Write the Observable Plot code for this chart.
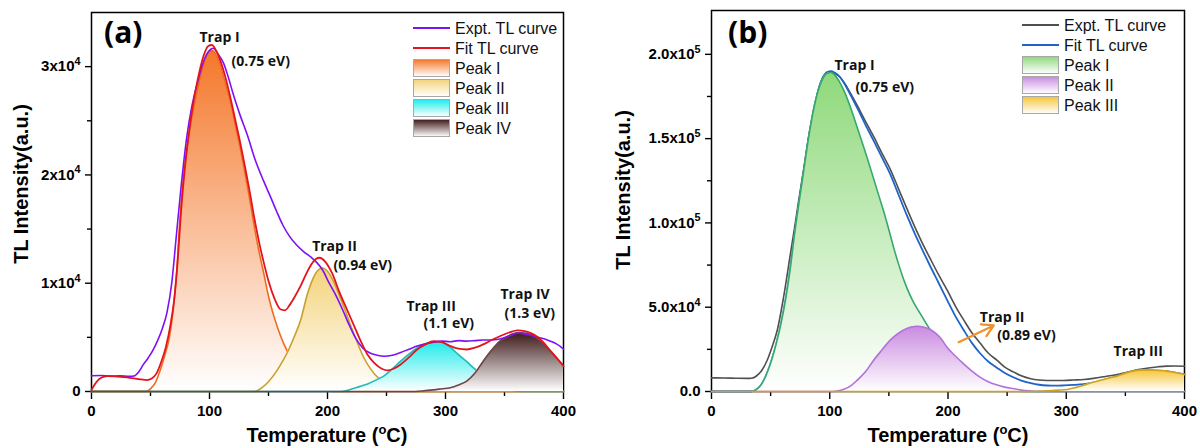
<!DOCTYPE html>
<html><head><meta charset="utf-8">
<script src="https://cdn.jsdelivr.net/npm/d3@7"></script>
<script src="https://cdn.jsdelivr.net/npm/@observablehq/plot@0.6"></script>
<style>
html,body{margin:0;padding:0;background:#fff;}
#wrap{position:relative;width:1200px;height:448px;overflow:hidden;background:#fff;}
.panel{position:absolute;top:0;width:600px;height:448px;}
#overlay{position:absolute;left:0;top:0;pointer-events:none;}
</style></head><body><div id="wrap"><div class="panel" id="pa" style="left:0"></div><div class="panel" id="pb" style="left:600px"></div></div>
<script>
// ---------- Panel (a) data: [Temperature °C, TL intensity a.u.] ----------
const aExpt = [[0,1450],[8,1480],[16,1420],[24,1440],[32,1400],[36,1430],[40,1800],[44,2500],[48,3100],[52,3800],[56,4700],[60,5800],[64,7300],[68,10000],[72,14500],[76,19000],[81,23700],[85,26300],[90,28600],[95,30500],[100,31500],[103,31700],[107,31200],[112,30300],[116,29000],[120,27500],[126,25500],[132,23700],[139,21300],[146,19400],[152,17900],[157,16600],[162,15400],[168,14300],[174,13500],[180,12900],[186,12400],[191,11900],[196,11200],[201,10100],[207,8900],[213,7500],[219,6000],[224,4900],[230,4000],[236,3550],[242,3350],[248,3250],[255,3350],[262,3600],[269,3900],[276,4200],[283,4400],[290,4550],[297,4650],[304,4600],[311,4700],[318,4650],[325,4700],[332,4750],[339,4750],[346,4850],[352,5050],[357,5250],[362,5400],[367,5300],[372,5200],[378,5000],[384,4850],[389,4650],[394,4400],[398,4100],[400,3900]];
const aFit = [[0,150],[3,700],[6,1100],[10,1350],[14,1420],[20,1400],[30,1300],[40,1150],[47,1050],[51,1200],[55,1650],[59,2700],[63,4100],[67,6200],[70,8400],[73,12000],[76,16800],[79,20500],[82,23400],[86,26500],[90,28800],[95,31000],[99,31900],[102,32000],[106,31400],[110,30300],[114,28800],[118,27000],[122,25000],[126,23000],[130,20800],[134,18500],[138,16000],[142,13800],[146,11900],[150,10200],[155,8600],[160,7600],[164,7500],[168,8000],[172,8700],[177,9700],[183,11100],[188,12000],[193,12350],[198,12000],[204,10900],[210,9200],[216,7700],[222,6200],[228,4700],[234,3400],[240,2600],[246,2100],[251,1950],[256,2100],[262,2500],[270,3250],[276,3880],[283,4350],[290,4640],[297,4550],[304,4200],[311,3950],[318,3880],[325,4050],[332,4350],[340,4800],[347,5150],[354,5450],[361,5650],[368,5550],[375,5250],[382,4650],[389,3750],[395,3000],[400,2350]];
const aPeak1 = [[0,0],[46,0],[50,250],[54,800],[58,1900],[62,3300],[66,5000],[69,7300],[72,10800],[75,16000],[78,19800],[81,22500],[85,25300],[90,28000],[95,30200],[99,31300],[102,31500],[105,31200],[109,30200],[113,28600],[118,26600],[122,24500],[126,22500],[130,20200],[134,17800],[138,15200],[142,12900],[146,10900],[150,8800],[155,6800],[160,5200],[166,3700],[172,2600],[178,1600],[185,800],[193,300],[200,80],[210,0],[400,0]];
const aPeak2 = [[0,0],[138,0],[145,400],[150,900],[157,1900],[162,2800],[166,3600],[172,5100],[177,6500],[183,9000],[188,10500],[192,11200],[196,11400],[200,11100],[205,10200],[210,8900],[215,7500],[220,6000],[225,4600],[230,3300],[234,2500],[240,1600],[246,1000],[252,550],[260,200],[270,50],[280,0],[400,0]];
const aPeak3 = [[0,0],[212,0],[220,200],[227,450],[234,700],[241,1050],[248,1450],[255,2100],[262,2800],[269,3450],[276,4030],[283,4400],[290,4580],[294,4600],[300,4400],[305,4000],[311,3400],[318,2750],[324,2150],[330,1600],[337,1000],[345,500],[355,150],[365,0],[400,0]];
const aPeak4 = [[0,0],[270,0],[280,50],[290,150],[297,250],[304,350],[311,600],[318,950],[325,1700],[332,2800],[339,3800],[346,4640],[353,5100],[358,5350],[363,5420],[369,5350],[375,5100],[382,4500],[389,3720],[395,3000],[400,2340]];
const aXTicks = [0,100,200,300,400];
const aXMinor = [50,150,250,350];
const aYTicks = [0,10000,20000,30000];
const aYTickLabels = ["0","1x10^4","2x10^4","3x10^4"];
const aYMinor = [5000,15000,25000];
const aLegend = ["Expt. TL curve","Fit TL curve","Peak I","Peak II","Peak III","Peak IV"];
const aNotes = [
  {T:91.5, I:32230, label:"Trap I"}, {T:118.6, I:30060, label:"(0.75 eV)"},
  {T:187.0, I:12960, label:"Trap II"}, {T:205.1, I:11220, label:"(0.94 eV)"},
  {T:266.9, I:7480, label:"Trap III"}, {T:281.4, I:5860, label:"(1.1 eV)"},
  {T:346.6, I:8500, label:"Trap IV"}, {T:350.0, I:6790, label:"(1.3 eV)"}
];

// ---------- Panel (b) data ----------
const bExpt = [[0,8100],[10,8050],[20,7900],[30,7800],[34,7900],[38,9200],[42,12000],[47,18400],[51,26000],[55.6,36300],[61,56100],[66.8,82000],[70,96000],[74,114500],[78,132000],[82,150500],[86.5,166000],[90,178000],[94,186000],[98,189300],[101,189500],[104,188800],[108,187000],[112,183500],[117.5,177000],[123,170000],[130,160500],[137.3,151000],[144,141500],[151.4,131500],[158,120500],[165.5,108000],[172,97500],[178,88500],[185.2,78500],[192,69300],[199.3,60100],[206,51000],[213.4,42300],[220,35000],[227.5,28400],[234,22800],[241.6,18450],[248,14500],[255.7,11500],[262,9300],[270,7540],[277,6800],[284,6550],[291,6500],[298,6550],[306,6800],[315,7140],[323,7800],[333,8900],[343,10100],[352,11600],[361,13000],[371,14100],[378,14700],[385,15060],[392,15100],[400,15000]];
const bFit = [[0,0],[33,0],[38,1200],[42,4000],[47,11000],[51,19000],[55,29000],[59,41000],[63,56000],[67,75000],[70,92000],[74,112000],[78,131000],[82,150000],[86,166000],[90,178000],[94,186000],[98,189500],[101,190000],[104,189200],[108,187000],[112,183000],[117.5,176000],[123,168500],[130,158500],[137.3,148500],[144,139000],[151.4,128500],[158,117000],[165.5,104000],[172,93500],[178,84500],[185.2,74000],[192,64500],[199.3,54200],[206,45000],[213.4,36300],[220,29000],[227.5,22400],[234,17800],[241.6,14000],[248,11000],[255.7,8300],[262,6500],[270,4950],[277,4000],[284,3570],[291,3450],[298,3600],[306,3900],[315,4400],[323,5300],[333,7000],[343,9100],[352,10900],[362,12300],[371,12500],[378,12400],[385,12100],[392,11200],[400,10100]];
const bPeak1 = [[0,0],[33,0],[38,1200],[42,4000],[47,11000],[51,19000],[55,29000],[59,41000],[63,56000],[67,75000],[70,92000],[74,112000],[78,131000],[82,150000],[86,166000],[90,178000],[94,185500],[98,188800],[101,189200],[104,188000],[108,184000],[112,178500],[116,171500],[120,163500],[124,155000],[128,146500],[132,137800],[136,128800],[140,119600],[144,110500],[147,103500],[150,96000],[154,85500],[158,76000],[162,67500],[165.5,61000],[170,54000],[176.7,46000],[181,41000],[185.2,36300],[190,31500],[195,26500],[200,22000],[206,17000],[212,12500],[218,8800],[225,5500],[232,3200],[240,1600],[250,600],[260,150],[270,0],[400,0]];
const bPeak2 = [[0,0],[100,0],[106,300],[112,1300],[118,3500],[123,6550],[130,11500],[137,18450],[144,24500],[151,30400],[158,34500],[165,37300],[170,38400],[174,38700],[179,38300],[185,36800],[190,34300],[195,30500],[199,26400],[206,21200],[213,16500],[220,12200],[227,8500],[234,5800],[241,3970],[248,2600],[256,1600],[262,800],[270,300],[280,0],[400,0]];
const bPeak3 = [[0,0],[265,0],[275,150],[285,450],[293,800],[301,1190],[308,2300],[315,3770],[322,5300],[329,6700],[336,8000],[343,9100],[350,10800],[356,12000],[363,12700],[370,12800],[378,12500],[385,12100],[392,11300],[400,10100]];
const bXTicks = [0,100,200,300,400];
const bXMinor = [50,150,250,350];
const bYTicks = [0,50000,100000,150000,200000];
const bYTickLabels = ["0.0","5.0x10^4","1.0x10^5","1.5x10^5","2.0x10^5"];
const bYMinor = [25000,75000,125000,175000];
const bLegend = ["Expt. TL curve","Fit TL curve","Peak I","Peak II","Peak III"];
const bNotes = [
  {T:104.0, I:190800, label:"Trap I"}, {T:121.8, I:177500, label:"(0.75 eV)"},
  {T:226.9, I:41100, label:"Trap II"}, {T:241.6, I:30300, label:"(0.89 eV)"},
  {T:340.0, I:20950, label:"Trap III"}
];
const bArrow = [{T1:209, I1:29260, T2:238.7, I2:39170}];

// ---------- styles ----------
const FONT = "'Liberation Sans', Arial, sans-serif";
const NOTEFONT = "'Open Sans', 'Liberation Sans', sans-serif";
const aColors = {expt:"#7F10F5", fit:"#E3141E",
  peaks:[{line:"#F06A1E", top:"#F4772A"},{line:"#C9A12E", top:"#F3D37A"},{line:"#25B8B8", top:"#1EEBEB"},{line:"#6E4545", top:"#3E1818"}]};
const bColors = {expt:"#505050", fit:"#1F64C8",
  peaks:[{line:"#35A86C", top:"#8ED97A"},{line:"#B272D8", top:"#C98AE0"},{line:"#CFA21F", top:"#F6C535"}]};

const rows = arr => arr.map(([T, I]) => ({T, I}));
const NS = "http://www.w3.org/2000/svg";

function supify(root) {
  root.querySelectorAll("text").forEach(t => {
    if (t.children.length || !t.textContent.includes("^")) return;
    const [base, sup] = t.textContent.split("^");
    t.textContent = "";
    const b = document.createElementNS(NS, "tspan"); b.textContent = base; t.appendChild(b);
    const p = document.createElementNS(NS, "tspan"); p.textContent = sup;
    p.setAttribute("dy", "-0.6em"); p.setAttribute("font-size", "0.72em"); t.appendChild(p);
  });
}
function addGradients(svg, list) {
  const defs = d3.select(svg).insert("defs", ":first-child");
  list.forEach(({id, top}) => {
    const g = defs.append("linearGradient").attr("id", id).attr("x1", 0).attr("y1", 0).attr("x2", 0).attr("y2", 1);
    g.append("stop").attr("offset", 0).attr("stop-color", top);
    g.append("stop").attr("offset", 1).attr("stop-color", "#ffffff");
  });
}

function makePanel(cfg) {
  const peakMarks = [];
  cfg.peaks.forEach((p, i) => {
    const data = rows(p);
    peakMarks.push(Plot.areaY(data, {x: "T", y: "I", fill: `url(#${cfg.id}g${i})`, curve: "monotone-x"}));
    peakMarks.push(Plot.lineY(data, {x: "T", y: "I", stroke: cfg.colors.peaks[i].line, strokeWidth: 1.6, curve: "monotone-x"}));
  });
  const exptMark = Plot.lineY(rows(cfg.expt), {x: "T", y: "I", stroke: cfg.colors.expt, strokeWidth: 1.6, curve: "monotone-x"});
  const fitMark = Plot.lineY(rows(cfg.fit), {x: "T", y: "I", stroke: cfg.colors.fit, strokeWidth: 1.8, curve: "monotone-x"});
  const curveMarks = cfg.linesFirst ? [exptMark, fitMark, ...peakMarks] : [...peakMarks, exptMark, fitMark];
  const svg = Plot.plot({
    width: 600, height: 448,
    marginLeft: cfg.ml, marginRight: cfg.mr, marginTop: cfg.mt, marginBottom: 57,
    x: {domain: [0, 400]},
    y: {domain: [0, cfg.ymax]},
    style: {fontFamily: FONT, fontSize: "15px", fontWeight: "bold", color: "#000", background: "transparent", overflow: "visible"},
    marks: [
      Plot.frame({stroke: "#000", strokeWidth: 1.5}),
      Plot.axisX({ticks: cfg.xTicks, tickSize: 8, tickPadding: 6, strokeWidth: 1.4, tickFormat: d => String(d), label: null}),
      Plot.axisX({ticks: cfg.xMinor, tickSize: 5, strokeWidth: 1.4, tickFormat: () => "", label: null}),
      Plot.axisY({ticks: cfg.yTicks, tickSize: 6, tickPadding: 5, strokeWidth: 1.4, tickFormat: d => cfg.yLabels[cfg.yTicks.indexOf(d)], label: null}),
      Plot.axisY({ticks: cfg.yMinor, tickSize: 4, strokeWidth: 1.4, tickFormat: () => "", label: null}),
      ...curveMarks,
      ...(cfg.arrow ? [Plot.arrow(cfg.arrow, {x1: "T1", y1: "I1", x2: "T2", y2: "I2", stroke: "#F0922B", strokeWidth: 2.2, headLength: 9})] : []),
      Plot.text(cfg.notes, {x: "T", y: "I", text: "label", textAnchor: "start", lineAnchor: "bottom", fontFamily: NOTEFONT, fontSize: 14, fontWeight: "bold", fill: "#111"})
    ]
  });
  addGradients(svg, cfg.colors.peaks.map((c, i) => ({id: `${cfg.id}g${i}`, top: c.top})));
  supify(svg);
  return svg;
}

document.getElementById("pa").appendChild(makePanel({
  id: "A", ml: 91, mr: 37, mt: 12, ymax: 35000,
  expt: aExpt, fit: aFit, peaks: [aPeak1, aPeak2, aPeak3, aPeak4], colors: aColors,
  xTicks: aXTicks, xMinor: aXMinor, yTicks: aYTicks, yLabels: aYTickLabels, yMinor: aYMinor,
  notes: aNotes, linesFirst: false
}));
document.getElementById("pb").appendChild(makePanel({
  id: "B", ml: 111, mr: 16, mt: 10, ymax: 226000,
  expt: bExpt, fit: bFit, peaks: [bPeak1, bPeak2, bPeak3], colors: bColors,
  xTicks: bXTicks, xMinor: bXMinor, yTicks: bYTicks, yLabels: bYTickLabels, yMinor: bYMinor,
  notes: bNotes, arrow: bArrow, linesFirst: true
}));

// ---------- overlay: legends, panel letters, axis titles ----------
const ov = d3.select("#wrap").append("svg").attr("id", "overlay").attr("width", 1200).attr("height", 448)
  .style("font-family", FONT);
const odefs = ov.append("defs");
function ograd(id, top) {
  const g = odefs.append("linearGradient").attr("id", id).attr("x1", 0).attr("y1", 0).attr("x2", 0).attr("y2", 1);
  g.append("stop").attr("offset", 0).attr("stop-color", top);
  g.append("stop").attr("offset", 1).attr("stop-color", "#ffffff");
}
function legend(x0, y0, labels, colors, key) {
  labels.forEach((lab, i) => {
    const cy = y0 + i * 20;
    if (i < 2) {
      ov.append("line").attr("x1", x0).attr("x2", x0 + 37).attr("y1", cy).attr("y2", cy)
        .attr("stroke", i === 0 ? colors.expt : colors.fit).attr("stroke-width", 2);
    } else {
      const gid = `L${key}${i}`;
      ograd(gid, colors.peaks[i - 2].top);
      ov.append("rect").attr("x", x0 + 0.5).attr("y", cy - 8.5).attr("width", 36).attr("height", 17)
        .attr("fill", `url(#${gid})`).attr("stroke", "#a8a8a8").attr("stroke-width", 1);
    }
    ov.append("text").attr("x", x0 + 42).attr("y", cy + 5.5).attr("font-size", 16).attr("fill", "#111").text(lab);
  });
}
legend(413, 28, aLegend, aColors, "a");
legend(1022, 25, bLegend, bColors, "b");

[["(a)", 104], ["(b)", 728]].forEach(([t, x]) => {
  ov.append("text").attr("x", x).attr("y", 43).attr("font-family", NOTEFONT).attr("font-weight", "bold")
    .attr("font-size", 30).attr("fill", "#000").text(t);
});
function xTitle(cx) {
  const t = ov.append("text").attr("x", cx).attr("y", 442).attr("text-anchor", "middle")
    .attr("font-weight", "bold").attr("font-size", 20).attr("fill", "#000");
  t.append("tspan").text("Temperature (");
  t.append("tspan").attr("font-size", 13).attr("dy", -8).text("o");
  t.append("tspan").attr("dy", 8).text("C)");
}
xTitle(327); xTitle(948);
[[28, 184], [630, 190]].forEach(([x, y]) => {
  ov.append("text").attr("transform", `translate(${x},${y}) rotate(-90)`).attr("text-anchor", "middle")
    .attr("font-weight", "bold").attr("font-size", 20).attr("fill", "#000").text("TL Intensity(a.u.)");
});
</script></body></html>
